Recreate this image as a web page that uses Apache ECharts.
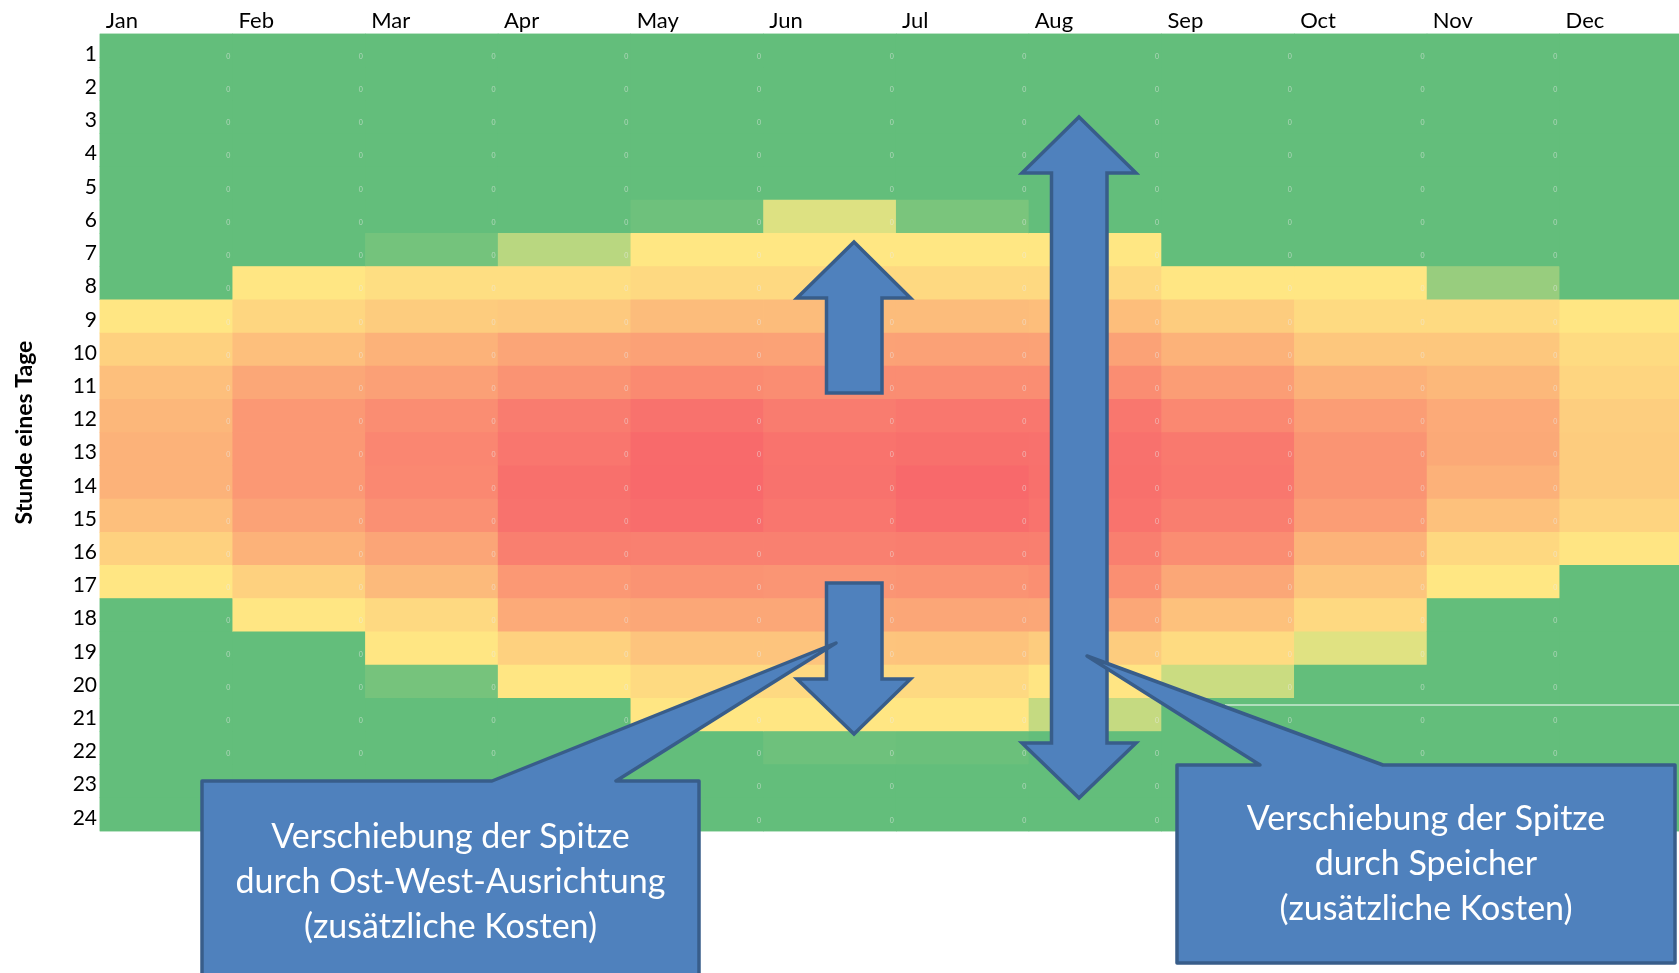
<!DOCTYPE html>
<html>
<head>
<meta charset="utf-8">
<title>Stunde eines Tage – Heatmap</title>
<script src="https://cdn.jsdelivr.net/npm/echarts@6/dist/echarts.min.js"></script>
<style>
  html, body { margin: 0; padding: 0; background: #ffffff; }
  #chart { width: 1679px; height: 973px; }
</style>
</head>
<body>
<div id="chart"></div>
<script>
// Month columns and hour rows
const months = ['Jan', 'Feb', 'Mar', 'Apr', 'May', 'Jun', 'Jul', 'Aug', 'Sep', 'Oct', 'Nov', 'Dec'];
const hours = ['1', '2', '3', '4', '5', '6', '7', '8', '9', '10', '11', '12',
               '13', '14', '15', '16', '17', '18', '19', '20', '21', '22', '23', '24'];

// Relative output per hour (hour 1 … 24), one array per month
const jan = [0, 0, 0, 0, 0, 0, 0, 0, 52, 60, 67, 70, 72, 72, 67, 60, 52, 0, 0, 0, 0, 0, 0, 0];
const feb = [0, 0, 0, 0, 0, 0, 0, 52, 58, 67, 76, 82, 82, 82, 78, 72, 60, 52, 0, 0, 0, 0, 0, 0];
const mar = [0, 0, 0, 0, 0, 0, 5.5, 55, 62, 72, 79, 86, 89, 88, 85, 77, 69, 57, 52, 6, 0, 0, 0, 0];
const apr = [0, 0, 0, 0, 0, 0, 27.5, 55, 63, 77, 84, 92.5, 95, 97.5, 96.5, 91.5, 82, 75, 60, 52, 0, 0, 0, 0];
const may = [0, 0, 0, 0, 0, 3.5, 51.5, 57, 68, 78.5, 87.5, 96.5, 99.5, 100, 98.5, 91, 84, 76, 65, 56.5, 52, 0, 0, 0];
const jun = [0, 0, 0, 0, 0, 39, 51.5, 57, 68, 78, 86, 92.5, 96, 96.5, 95, 91, 83, 76, 65, 57, 52, 3.5, 0, 0];
const jul = [0, 0, 0, 0, 0, 7.5, 51.5, 57, 68, 78.5, 86, 94.5, 97.5, 100, 98.5, 92, 84, 76.5, 65.5, 57, 52, 2.5, 0, 0];
const aug = [0, 0, 0, 0, 0, 0, 51.5, 57, 67.5, 78, 86, 94.5, 97, 97.5, 96, 91.5, 85.5, 76, 62, 52.5, 31.5, 0, 0, 0];
const sep = [0, 0, 0, 0, 0, 0, 0, 52, 62, 72, 80, 88, 94, 94.5, 92, 86, 76, 66, 56, 33, 0, 0, 0, 0];
const oct = [0, 0, 0, 0, 0, 0, 0, 52, 56.5, 64, 72.5, 80, 83.5, 83.5, 80, 71.5, 64.5, 57, 40, 0, 0, 0, 0, 0];
const nov = [0, 0, 0, 0, 0, 0, 0, 17, 56.5, 64, 69.5, 75, 75.5, 72.5, 66, 57.5, 51.5, 0, 0, 0, 0, 0, 0, 0];
const dec = [0, 0, 0, 0, 0, 0, 0, 0, 52, 56, 58.5, 61, 62, 62, 59, 52.5, 0, 0, 0, 0, 0, 0, 0, 0];
const monthRows = [jan, feb, mar, apr, may, jun, jul, aug, sep, oct, nov, dec];

// Narrow spacer columns between the months hold the value 0
const boundaryNames = ['', 'Jan|Feb', 'Feb|Mar', 'Mar|Apr', 'Apr|May', 'May|Jun', 'Jun|Jul',
                       'Jul|Aug', 'Aug|Sep', 'Sep|Oct', 'Oct|Nov', 'Nov|Dec', 'Dec|'];
const spacerValues = [0, 0, 0, 0, 0, 0, 0, 0, 0, 0, 0];

const heatData = [];
monthRows.forEach((row, m) => row.forEach((v, h) => heatData.push([m, h, v])));

const spacerData = [];
spacerValues.forEach((v, i) => hours.forEach((_, h) => spacerData.push([i + 1, h, v])));

const FONT = 'Lato, "Open Sans", "Noto Sans", sans-serif';
const FILL = '#4F81BD';
const EDGE = '#385D8A';

// The cell layer is painted twice so that anti-aliased cell edges close up
const heatLayer = () => ({
  type: 'heatmap',
  data: heatData,
  progressive: 0,
  itemStyle: { borderWidth: 0 },
  emphasis: { disabled: true },
  label: { show: false },
  silent: true
});

const chart = echarts.init(document.getElementById('chart'), null, { renderer: 'canvas' });

chart.setOption({
  animation: false,
  backgroundColor: '#ffffff',
  grid: {
    left: 100, top: 34, width: 1592.4, height: 797,
    containLabel: false, outerBoundsMode: 'none'
  },
  xAxis: [{
    type: 'category',
    data: months,
    position: 'top',
    axisLine: { show: false },
    axisTick: { show: false },
    splitLine: { show: false },
    axisLabel: {
      interval: 0,
      margin: 2,
      formatter: v => '{m|' + v + '}',
      rich: {
        m: { width: 121, align: 'left', fontFamily: FONT, fontSize: 22, color: '#000000' }
      }
    }
  }, {
    type: 'category',
    data: boundaryNames,
    boundaryGap: false,
    show: false
  }],
  yAxis: {
    type: 'category',
    data: hours,
    inverse: true,
    axisLine: { show: false },
    axisTick: { show: false },
    splitLine: { show: false },
    axisLabel: {
      interval: 0,
      margin: 3,
      formatter: v => '{h|' + v + '}',
      rich: {
        h: { padding: [7, 0, 0, 0], fontFamily: FONT, fontSize: 21, color: '#000000' }
      }
    },
    name: 'Stunde eines Tage',
    nameLocation: 'middle',
    nameRotate: 90,
    nameGap: 64,
    nameTextStyle: { fontFamily: FONT, fontSize: 23, fontWeight: 'bold', color: '#000000' }
  },
  visualMap: {
    show: false,
    type: 'continuous',
    min: 0,
    max: 100,
    dimension: 2,
    seriesIndex: [0, 1],
    inRange: { color: ['#63BE7B', '#FFEB84', '#F8696B'] }
  },
  series: [heatLayer(), heatLayer(), {
    type: 'scatter',
    xAxisIndex: 1,
    data: spacerData,
    symbolSize: 1,
    itemStyle: { color: 'rgba(0,0,0,0)' },
    silent: true,
    label: {
      show: true,
      position: 'inside',
      offset: [-4.5, 6],
      formatter: p => String(p.value[2]),
      fontFamily: FONT,
      fontSize: 7,
      color: 'rgba(235,235,235,0.7)'
    }
  }],
  graphic: [
    // hairline on the evening rows
    { type: 'line', shape: { x1: 1225, y1: 705, x2: 1679, y2: 705 },
      style: { stroke: '#ffffff', lineWidth: 1 }, z: 50 },
    // storage: double arrow across the whole day
    { type: 'polygon', z: 60,
      shape: { points: [[1079, 117], [1136, 173], [1107, 173], [1107, 743], [1136, 743],
                        [1079, 798], [1022, 743], [1051.5, 743], [1051.5, 173], [1022, 173]] },
      style: { fill: FILL, stroke: EDGE, lineWidth: 3.5, lineJoin: 'miter' } },
    // east-west orientation: morning shift
    { type: 'polygon', z: 60,
      shape: { points: [[854, 242], [910.5, 298], [882, 298], [882, 393],
                        [826.5, 393], [826.5, 298], [797, 298]] },
      style: { fill: FILL, stroke: EDGE, lineWidth: 3.5, lineJoin: 'miter' } },
    // east-west orientation: evening shift
    { type: 'polygon', z: 60,
      shape: { points: [[826.5, 583], [882, 583], [882, 679], [910.5, 679],
                        [854, 734], [797, 679], [826.5, 679]] },
      style: { fill: FILL, stroke: EDGE, lineWidth: 3.5, lineJoin: 'miter' } },
    // callout: east-west orientation
    { type: 'polygon', z: 70,
      shape: { points: [[202, 781], [492, 781], [836, 643], [616, 781],
                        [699, 781], [699, 990], [202, 990]] },
      style: { fill: FILL, stroke: EDGE, lineWidth: 3.5, lineJoin: 'round' } },
    { type: 'text', z: 71, x: 450.5, y: 881.7,
      style: { text: 'Verschiebung der Spitze\ndurch Ost-West-Ausrichtung\n(zusätzliche Kosten)',
               fill: '#ffffff', font: '34px ' + FONT, align: 'center', verticalAlign: 'middle',
               lineHeight: 45 } },
    // callout: storage
    { type: 'polygon', z: 70,
      shape: { points: [[1177, 765], [1260, 765], [1087, 656], [1383, 765],
                        [1675, 765], [1675, 963], [1177, 963]] },
      style: { fill: FILL, stroke: EDGE, lineWidth: 3.5, lineJoin: 'round' } },
    { type: 'text', z: 71, x: 1426, y: 864,
      style: { text: 'Verschiebung der Spitze\ndurch Speicher\n(zusätzliche Kosten)',
               fill: '#ffffff', font: '34px ' + FONT, align: 'center', verticalAlign: 'middle',
               lineHeight: 45 } }
  ]
});
</script>
</body>
</html>
